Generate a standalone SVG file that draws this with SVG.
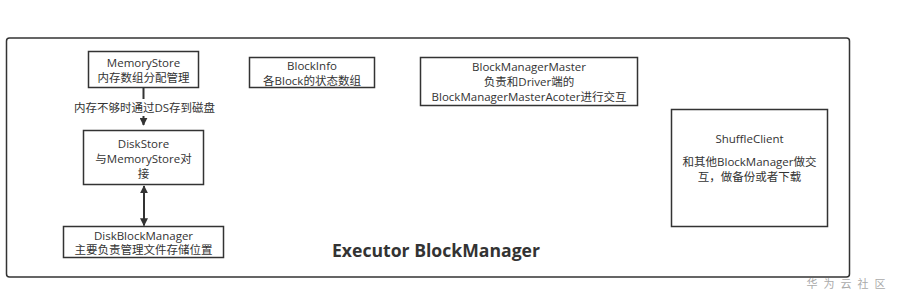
<svg xmlns="http://www.w3.org/2000/svg" width="900" height="306" viewBox="0 0 900 306">
<defs>
<style>
.box{fill:#fff;stroke:#333;stroke-width:1.5}
.t{font-family:"Open Sans","Noto Sans CJK SC",sans-serif;font-size:11.5px;fill:#333;text-anchor:middle}
.title{font-family:"Open Sans","Noto Sans CJK SC",sans-serif;font-size:17px;font-weight:bold;fill:#333;text-anchor:middle}
.wm{font-family:"Noto Sans CJK SC",sans-serif;font-size:11px;fill:#aaa;text-anchor:middle;letter-spacing:6px}
.edge{stroke:#333;stroke-width:2;fill:none}
</style>
<marker id="ah" viewBox="0 0 10 10" refX="9" refY="5" markerWidth="8" markerHeight="8" markerUnits="userSpaceOnUse" orient="auto-start-reverse">
<path d="M0,0 L10,5 L0,10 z" fill="#333"/>
</marker>
</defs>
<g id="container">
<rect x="6.5" y="38" width="843" height="239" rx="3" fill="#fff" stroke="#333" stroke-width="1.5"/>
<text class="title" x="436" y="257" textLength="208" lengthAdjust="spacingAndGlyphs">Executor BlockManager</text>
</g>
<g id="connectors">
<line class="edge" x1="143.5" y1="88" x2="143.5" y2="125" marker-end="url(#ah)"/>
<rect x="72" y="99" width="145" height="17" fill="#fff"/>
<text class="t" x="144.5" y="112">内存不够时通过DS存到磁盘</text>
<line class="edge" x1="144" y1="186" x2="144" y2="225.5" marker-start="url(#ah)" marker-end="url(#ah)"/>
</g>
<g id="memorystore">
<rect class="box" x="88.5" y="51.5" width="110" height="36"/>
<text class="t" x="143.5" y="67">MemoryStore</text>
<text class="t" x="143.5" y="82">内存数组分配管理</text>
</g>
<g id="blockinfo">
<rect class="box" x="249.5" y="57.5" width="125" height="30"/>
<text class="t" x="312" y="69.5">BlockInfo</text>
<text class="t" x="312" y="84.5">各Block的状态数组</text>
</g>
<g id="blockmanagermaster">
<rect class="box" x="420.5" y="57.5" width="217" height="48"/>
<text class="t" x="529" y="70.5">BlockManagerMaster</text>
<text class="t" x="529" y="85.5">负责和Driver端的</text>
<text class="t" x="529" y="100.5">BlockManagerMasterAcoter进行交互</text>
</g>
<g id="diskstore">
<rect class="box" x="83.5" y="130.5" width="120" height="54"/>
<text class="t" x="143.5" y="147.5">DiskStore</text>
<text class="t" x="143.5" y="162.5">与MemoryStore对</text>
<text class="t" x="143.5" y="177.5">接</text>
</g>
<g id="diskblockmanager">
<rect class="box" x="63.5" y="226.5" width="160" height="31"/>
<text class="t" x="143.5" y="239.5">DiskBlockManager</text>
<text class="t" x="143.5" y="254">主要负责管理文件存储位置</text>
</g>
<g id="shuffleclient">
<rect class="box" x="671.5" y="109.5" width="156" height="117"/>
<text class="t" x="749.5" y="143">ShuffleClient</text>
<text class="t" x="749.5" y="166">和其他BlockManager做交</text>
<text class="t" x="749.5" y="181">互，做备份或者下载</text>
</g>
<text class="wm" x="849" y="288">华为云社区</text>
</svg>
